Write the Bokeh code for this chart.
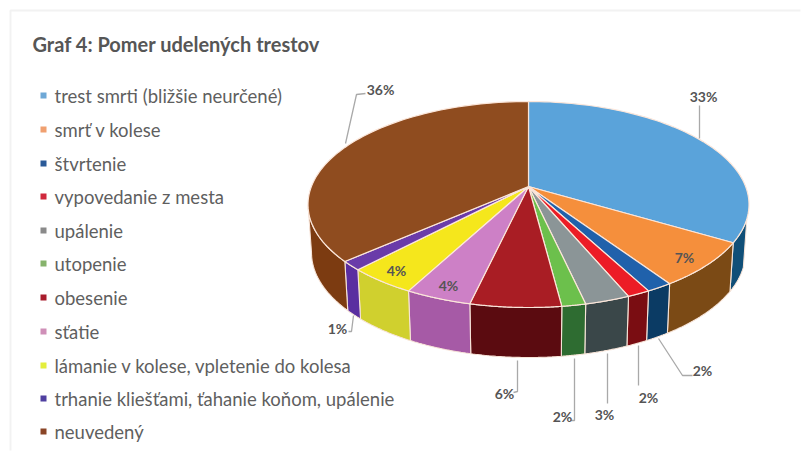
import numpy as np
from bokeh.plotting import figure
from bokeh.models import Range1d
from bokeh.core.properties import value
from bokeh.embed import file_html
from bokeh.resources import INLINE

# ---- data
title = "Graf 4: Pomer udelených trestov"
categories = ["trest smrti (bližšie neurčené)", "smrť v kolese", "štvrtenie",
              "vypovedanie z mesta", "upálenie", "utopenie", "obesenie", "sťatie",
              "lámanie v kolese, vpletenie do kolesa",
              "trhanie kliešťami, ťahanie koňom, upálenie", "neuvedený"]
shares = [33.0, 7.0, 1.7, 1.5, 3.0, 1.6, 6.1, 4.4, 4.4, 1.4, 35.9]
labels = ["33%", "7%", "2%", "2%", "3%", "2%", "6%", "4%", "4%", "1%", "36%"]

# ---- styles
top_colors = ["#5aa3da", "#f58f3c", "#2061ab", "#ec1c26", "#8b9597", "#6cc04c",
              "#a91d24", "#cd80c6", "#f5e71c", "#6a3ba9", "#8f4c1f"]
side_colors = ["#104f78", "#7b4a15", "#0b3b64", "#7a0d12", "#3a4749", "#2e6c31",
               "#5b0b10", "#a65aa6", "#d0d02e", "#5a2ea0", "#7c3b11"]
legend_colors = ["#6ea8d6", "#f0a070", "#2a5a98", "#d0283c", "#8a8a8a", "#86b36c",
                 "#a81c2c", "#cf8fb8", "#e4ee3c", "#4f3fa0", "#8a4526"]

# ---- layout (reference pixels)
cx, cy, rx, ry = 528.0, 204.0, 220.5, 103.0      # top rim
lcy, lrx, lry = 252.0, 217.0, 105.0              # bottom rim
ax, ay = 528.0, 186.0                            # apex
TILT = 0.5
legend_x, legend_text_x = 43, 54
legend_y = [95, 129, 163, 196, 230, 263, 297, 331, 365, 398, 431]
label_pos = [(703, 96), (684, 257), (702, 370), (648, 397), (604, 414), (562, 416),
             (504, 393), (448, 285), (396, 270), (337, 328), (380, 89)]
leaders = [
    [(699, 138), (699, 105)],
    None,
    [(658, 338), (682, 375), (692, 375)],
    [(638, 345), (638, 385)],
    [(607, 353), (607, 403)],
    [(574, 358), (574, 420), (570, 420)],
    [(517, 360), (517, 391), (513, 392)],
    None,
    None,
    [(353, 315), (351, 331), (348, 331)],
    [(345, 143), (356, 94), (365, 93)],
]


def rim_param(theta):
    """Ellipse parameter of the rim point hit by the ray from the apex at pie angle theta."""
    dx, dy = np.sin(theta), -np.cos(theta) * TILT
    ox, oy = (ax - cx) / rx, (ay - cy) / ry
    ux, uy = dx / rx, dy / ry
    a = ux * ux + uy * uy
    b = 2 * (ox * ux + oy * uy)
    c = ox * ox + oy * oy - 1
    s = (-b + np.sqrt(b * b - 4 * a * c)) / (2 * a)
    px, py = ox + s * ux, oy + s * uy
    return np.arctan2(px, -py) % (2 * np.pi)


p = figure(width=809, height=458, x_range=Range1d(0, 809), y_range=Range1d(458, 0),
           output_backend="svg", toolbar_location=None, min_border=0)
p.axis.visible = False
p.grid.visible = False
p.outline_line_color = None
p.background_fill_color = "#ffffff"
p.border_fill_color = "#ffffff"

# faint panel edge
p.line([10, 10, 800], [450, 10, 10], line_color="#f2f2f2", line_width=2)

cum = np.concatenate([[0], np.cumsum(shares)]) / sum(shares) * 2 * np.pi
params = [0.0] + [rim_param(t) for t in cum[1:-1]] + [2 * np.pi]

# walls
wx, wy, wc = [], [], []
t_min, t_max = np.radians(98), np.radians(270)
for i in range(len(shares)):
    a, b = max(params[i], t_min), min(params[i + 1], t_max)
    if b <= a:
        continue
    t = np.linspace(a, b, 40)
    xs = np.concatenate([cx + rx * np.sin(t), (cx + lrx * np.sin(t))[::-1]])
    ys = np.concatenate([cy - ry * np.cos(t), (lcy - lry * np.cos(t))[::-1]])
    wx.append(xs.tolist()); wy.append(ys.tolist()); wc.append(side_colors[i])
p.patches(wx, wy, fill_color=wc, line_color="#f7e4d8", line_width=1.1)

# top
tx, ty = [], []
for i in range(len(shares)):
    t = np.linspace(params[i], params[i + 1], 80)
    tx.append([ax] + (cx + rx * np.sin(t)).tolist())
    ty.append([ay] + (cy - ry * np.cos(t)).tolist())
p.patches(tx, ty, fill_color=top_colors, line_color="#fbe6da", line_width=1.2)

# leaders
for pts in leaders:
    if pts:
        p.line([q[0] for q in pts], [q[1] for q in pts], line_color="#a9a9a9", line_width=1.3)

# slice labels
p.text([q[0] for q in label_pos], [q[1] for q in label_pos], text=labels,
       text_font=value("Lato"), text_font_style="bold", text_font_size="14px",
       text_color="#555555", text_align="center", text_baseline="middle")

# legend
p.scatter([legend_x] * len(categories), legend_y, marker="square", size=6,
          fill_color=legend_colors, line_color=None)
p.text([legend_text_x] * len(categories), legend_y, text=categories,
       text_font=value("Lato"), text_font_size="18.5px", text_color="#5f5f5f",
       text_align="left", text_baseline="middle")

# title
p.text([32], [43], text=[title], text_font=value("Lato"), text_font_style="bold",
       text_font_size="20px", text_color="#565656", text_align="left", text_baseline="middle")

open("out.html", "w").write(file_html(p, INLINE))
